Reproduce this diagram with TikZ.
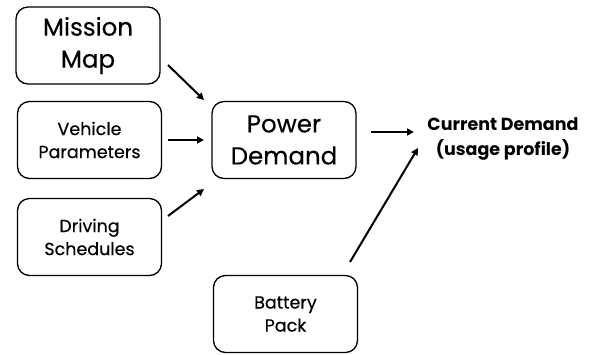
\documentclass[tikz,border=0pt]{standalone}
\usepackage{fontspec}
\setmainfont{Poppins}
\newfontfamily\boxfont[FakeBold=0.4]{Poppins}
\usetikzlibrary{arrows.meta}
\begin{document}
\begin{tikzpicture}[x=1pt,y=-1pt,
  block/.style={draw=black, line width=1.3pt, rounded corners=12pt, fill=white,
    minimum width=144pt, minimum height=77pt, align=center, inner sep=0pt},
  bigtxt/.style={font=\boxfont\fontsize{24.5}{32}\selectfont},
  smalltxt/.style={font=\boxfont\fontsize{17.5}{23}\selectfont},
  flow/.style={line width=2pt, -{Triangle[length=7pt,width=7pt]}}]
  \useasboundingbox (0,0) rectangle (594,354);
  \node[block, bigtxt]   (mission) at (88,45.5)   {Mission\\Map};
  \node[block, smalltxt] (vehicle) at (89.5,140)  {Vehicle\\Parameters};
  \node[block, smalltxt] (driving) at (89.5,237)  {Driving\\Schedules};
  \node[block, bigtxt]   (power)   at (284,140)   {Power\\Demand};
  \node[block, smalltxt] (battery) at (285.5,314) {Battery\\Pack};
  \node[align=center, font=\fontsize{17.5}{25}\selectfont\bfseries] (current) at (503,139)
    {Current Demand\\(usage profile)};
  % arrow end points floating between the boxes
  \coordinate (m1) at (168,65);  \coordinate (m2) at (204,100);
  \coordinate (v1) at (168,140); \coordinate (v2) at (204,140);
  \coordinate (d1) at (168,216); \coordinate (d2) at (204,189);
  \coordinate (p1) at (371,132); \coordinate (p2) at (414,132);
  \coordinate (b1) at (350,262); \coordinate (b2) at (418,148);
  \draw[flow] (m1) -- (m2);
  \draw[flow] (v1) -- (v2);
  \draw[flow] (d1) -- (d2);
  \draw[flow] (p1) -- (p2);
  \draw[flow] (b1) -- (b2);
\end{tikzpicture}
\end{document}
